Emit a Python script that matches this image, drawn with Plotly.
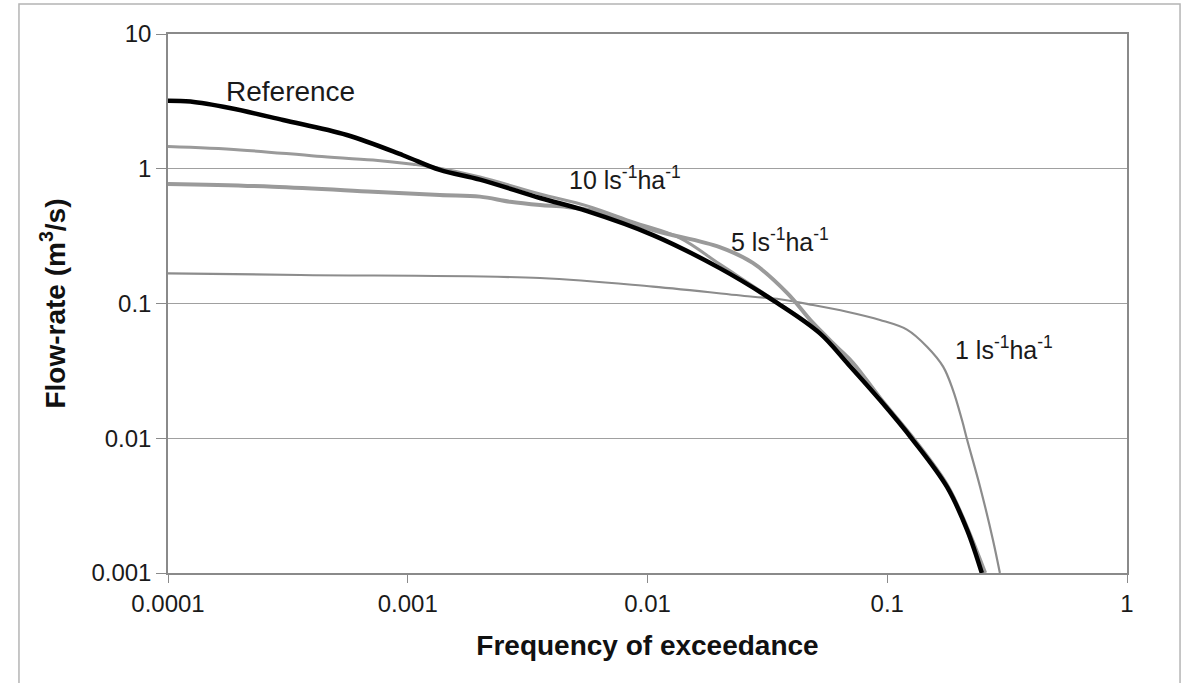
import plotly.graph_objects as go

# Frequency of exceedance (x) and flow-rate in m3/s (y) for each series
ref_x = [0.0001, 0.000124, 0.000181, 0.000302, 0.000557, 0.000955, 0.00136, 0.0020,
         0.00356, 0.0056, 0.01054, 0.0200, 0.0347, 0.0524, 0.0682, 0.0933, 0.128,
         0.1775, 0.2155, 0.248]
ref_y = [3.20, 3.15, 2.82, 2.30, 1.78, 1.26, 0.98, 0.83, 0.607, 0.485, 0.322, 0.183,
         0.101, 0.060, 0.036, 0.0192, 0.0097, 0.00435, 0.00208, 0.001]

q10_x = [0.0001, 0.000200, 0.000418, 0.000716, 0.00105, 0.00127, 0.0020, 0.00356,
         0.0056, 0.00871, 0.01368, 0.0200, 0.0347, 0.0524, 0.0682, 0.0933, 0.128,
         0.1775, 0.2155, 0.2506]
q10_y = [1.46, 1.38, 1.24, 1.16, 1.08, 1.03, 0.869, 0.650, 0.530, 0.403, 0.306, 0.196,
         0.1026, 0.0614, 0.0365, 0.0195, 0.00986, 0.00443, 0.00212, 0.001]

q5_x = [0.0001, 0.000274, 0.000716, 0.00136, 0.0020, 0.00267, 0.00356, 0.00461,
        0.00634, 0.01054, 0.0200, 0.0275, 0.0382, 0.0490, 0.0617, 0.0720, 0.0933,
        0.128, 0.1775, 0.2155, 0.256]
q5_y = [0.771, 0.736, 0.676, 0.638, 0.621, 0.569, 0.538, 0.520, 0.477, 0.351, 0.262,
        0.200, 0.120, 0.0717, 0.0475, 0.0362, 0.0199, 0.01005, 0.0045, 0.00216, 0.001]

q1_x = [0.0001, 0.000356, 0.00356, 0.01054, 0.0275, 0.0357, 0.0490, 0.0679, 0.0933,
        0.1208, 0.1465, 0.171, 0.188, 0.205, 0.2155, 0.2438, 0.276, 0.295]
q1_y = [0.1675, 0.1627, 0.1546, 0.1333, 0.1122, 0.1075, 0.0975, 0.0869, 0.0755,
        0.0640, 0.0478, 0.0340, 0.0228, 0.01365, 0.0097, 0.00437, 0.00176, 0.001]

x_ticks = [0.0001, 0.001, 0.01, 0.1, 1]
x_tick_labels = ["0.0001", "0.001", "0.01", "0.1", "1"]
y_ticks = [0.001, 0.01, 0.1, 1, 10]
y_tick_labels = ["0.001", "0.01", "0.1", "1", "10"]

FONT = "Liberation Sans, Arial, sans-serif"

fig = go.Figure()
fig.add_trace(go.Scatter(x=q1_x, y=q1_y, mode="lines", line=dict(color="#8c8c8c", width=2.2, shape="spline", smoothing=1.0), name="1 ls-1ha-1"))
fig.add_trace(go.Scatter(x=q10_x, y=q10_y, mode="lines", line=dict(color="#9a9a9a", width=3, shape="spline", smoothing=1.0), name="10 ls-1ha-1"))
fig.add_trace(go.Scatter(x=q5_x, y=q5_y, mode="lines", line=dict(color="#9a9a9a", width=4, shape="spline", smoothing=1.0), name="5 ls-1ha-1"))
fig.add_trace(go.Scatter(x=ref_x, y=ref_y, mode="lines", line=dict(color="#000000", width=4.5, shape="spline", smoothing=1.0), name="Reference"))

annots = [
    dict(x=-3.487, y=0.57, text="Reference", size=28),
    dict(x=-2.092, y=-0.065, text="10 ls<sup>-1</sup>ha<sup>-1</sup>", size=25),
    dict(x=-1.447, y=-0.53, text="5 ls<sup>-1</sup>ha<sup>-1</sup>", size=25),
    dict(x=-0.511, y=-1.33, text="1 ls<sup>-1</sup>ha<sup>-1</sup>", size=25),
]
for a in annots:
    fig.add_annotation(x=a["x"], y=a["y"], xref="x", yref="y", text=a["text"], showarrow=False,
                       xanchor="center", yanchor="middle",
                       font=dict(family=FONT, size=a["size"], color="#1a1a1a"))

# outer frame
fig.add_shape(type="rect", xref="paper", yref="paper", x0=-0.1554, x1=1.0553, y0=-0.25, y1=1.0557,
              line=dict(color="#b4b4b4", width=1.5), layer="below")

fig.update_layout(
    width=1188, height=683,
    margin=dict(l=168, r=61, t=34, b=110),
    paper_bgcolor="white", plot_bgcolor="white",
    showlegend=False,
    font=dict(family=FONT, color="#1a1a1a"),
    xaxis=dict(type="log", range=[-4, 0], tickvals=x_ticks, ticktext=x_tick_labels,
               showgrid=False, zeroline=False, showline=True, linecolor="#8a8a8a", linewidth=1.5,
               mirror=True, ticks="outside", ticklen=8, tickcolor="#8a8a8a", tickwidth=1.2,
               tickfont=dict(family=FONT, size=24, color="#1a1a1a"),
               title=dict(text="<b>Frequency of exceedance</b>", font=dict(family=FONT, size=28, color="#111"),
                          standoff=20)),
    yaxis=dict(type="log", range=[-3, 1], tickvals=y_ticks, ticktext=y_tick_labels,
               showgrid=True, gridcolor="#a0a0a0", gridwidth=1.2, zeroline=False,
               showline=True, linecolor="#8a8a8a", linewidth=1.5, mirror=True,
               ticks="outside", ticklen=10, tickcolor="#8a8a8a", tickwidth=1.2,
               tickfont=dict(family=FONT, size=24, color="#1a1a1a"),
               title=dict(text="<b>Flow-rate (m<sup>3</sup>/s)</b>", font=dict(family=FONT, size=28, color="#111"),
                          standoff=18)),
)

fig.write_html("out.html")
